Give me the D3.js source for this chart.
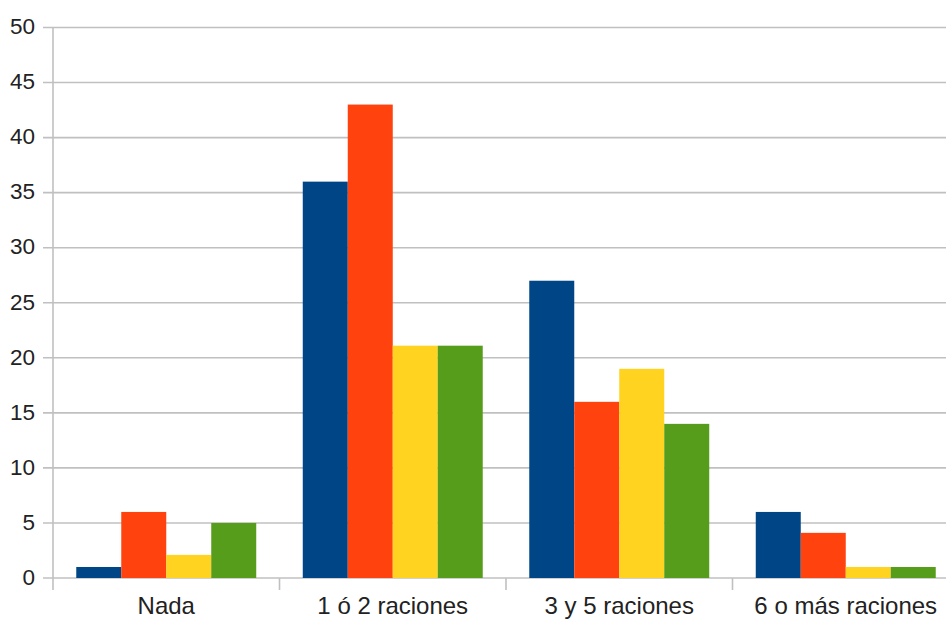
<!DOCTYPE html>
<html>
<head>
<meta charset="utf-8">
<script src="https://cdn.jsdelivr.net/npm/d3@7"></script>
<style>
  html, body { margin: 0; padding: 0; background: #fff; }
  svg { display: block; }
  text { font-family: "Liberation Sans", Arial, sans-serif; fill: #222; }
</style>
</head>
<body>
<svg id="chart" width="946" height="620"></svg>
<script>
// Raciones consumidas: cuatro series por categoría
const categories = ["Nada", "1 ó 2 raciones", "3 y 5 raciones", "6 o más raciones"];
const seriesNames = ["s1", "s2", "s3", "s4"];
const seriesColors = ["#004586", "#ff420e", "#ffd320", "#579d1c"];
const values1 = [1, 36, 27, 6];
const values2 = [6, 43, 16, 4.1];
const values3 = [2.1, 21.1, 19, 1];
const values4 = [5, 21.1, 14, 1];
const yTicks = [0, 5, 10, 15, 20, 25, 30, 35, 40, 45, 50];

const seriesValues = [values1, values2, values3, values4];

const svg = d3.select("#chart");
const plotLeft = 53, plotTop = 27.5, plotBottom = 578, bandW = 226.5;

const x0 = d3.scaleBand()
  .domain(categories)
  .range([plotLeft, plotLeft + bandW * categories.length])
  .paddingInner(0).paddingOuter(0);

const x1 = d3.scaleBand()
  .domain(seriesNames)
  .range([0, x0.bandwidth()])
  .paddingInner(0)
  .paddingOuter(0.517);

const y = d3.scaleLinear().domain([0, 50]).range([plotBottom, plotTop]);

// Horizontal grid with short outward ticks
svg.append("g")
  .selectAll("line")
  .data(yTicks)
  .join("line")
  .attr("x1", plotLeft - 10)
  .attr("x2", 946)
  .attr("y1", d => y(d))
  .attr("y2", d => y(d))
  .attr("stroke", "#c0c0c0")
  .attr("stroke-width", 1.6);

// Y axis labels
svg.append("g")
  .selectAll("text")
  .data(yTicks)
  .join("text")
  .attr("x", 35)
  .attr("y", d => y(d))
  .attr("dy", "0.3em")
  .attr("text-anchor", "end")
  .attr("font-size", 22.5)
  .text(d => d);

// Vertical axis line
svg.append("line")
  .attr("x1", plotLeft).attr("x2", plotLeft)
  .attr("y1", plotTop).attr("y2", plotBottom + 12)
  .attr("stroke", "#c0c0c0").attr("stroke-width", 1.6);

// Category separator ticks
const seps = categories.slice(1).map(c => x0(c));
svg.append("g")
  .selectAll("line")
  .data(seps)
  .join("line")
  .attr("x1", d => d).attr("x2", d => d)
  .attr("y1", plotBottom).attr("y2", plotBottom + 12)
  .attr("stroke", "#c0c0c0").attr("stroke-width", 1.6);

// Bars
const groups = svg.append("g")
  .selectAll("g")
  .data(categories)
  .join("g")
  .attr("transform", d => `translate(${x0(d)},0)`);

groups.selectAll("rect")
  .data((c, i) => seriesNames.map((s, j) => ({ s, v: seriesValues[j][i], color: seriesColors[j] })))
  .join("rect")
  .attr("x", d => x1(d.s))
  .attr("width", x1.bandwidth())
  .attr("y", d => y(d.v))
  .attr("height", d => y(0) - y(d.v))
  .attr("fill", d => d.color);

// Category labels
svg.append("g")
  .selectAll("text")
  .data(categories)
  .join("text")
  .attr("x", d => x0(d) + x0.bandwidth() / 2)
  .attr("y", 614)
  .attr("text-anchor", "middle")
  .attr("font-size", 24)
  .text(d => d);
</script>
</body>
</html>
